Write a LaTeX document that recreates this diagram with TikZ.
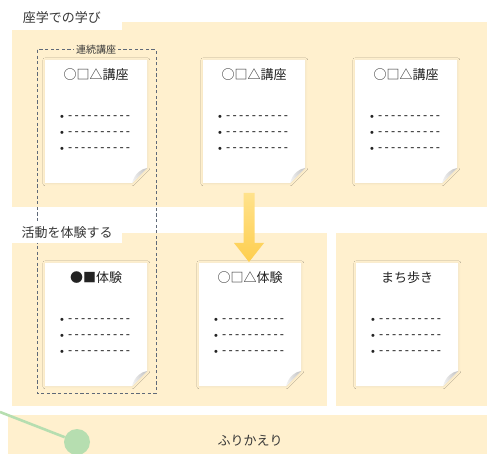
\documentclass[tikz,border=0pt]{standalone}
\usepackage{fontspec}
\setmainfont{Noto Sans CJK JP}
\newfontfamily\dashfont[LetterSpace=18]{Liberation Sans}
\newfontfamily\bulfont{Liberation Sans}
\usetikzlibrary{shadows.blur,calc}
\definecolor{panel}{RGB}{255,240,206}
\definecolor{txt}{RGB}{35,35,35}
\definecolor{lbl}{RGB}{55,55,55}
\definecolor{frame}{RGB}{95,105,120}
\definecolor{arrowtop}{RGB}{255,226,140}
\definecolor{arrowbot}{RGB}{254,206,78}
\definecolor{ball}{RGB}{182,222,176}
\newcommand\dashrow{-{}-{}-{}-{}-{}-{}-{}-{}-{}-}
\tikzset{
  panelbox/.style={fill=panel},
  labelbox/.style={fill=white},
  cardbody/.style={fill=white, blur shadow={shadow xshift=0.3pt, shadow yshift=-0.3pt, shadow blur radius=2.5pt, shadow opacity=7}},
  foldpart/.style={left color=gray!10, right color=gray!50},
  cardtitle/.style={text=txt, font=\fontsize{13}{15}\selectfont, inner sep=0pt},
  sectlabel/.style={text=lbl, font=\fontsize{13}{15}\selectfont, inner sep=0pt},
  bul/.style={text=txt, font=\bulfont\fontsize{11}{13}\selectfont, inner sep=0pt},
  dashtxt/.style={text=txt, font=\dashfont\fontsize{12.5}{14}\selectfont, inner sep=0pt, anchor=west},
  seriesframe/.style={draw=frame, line width=1pt, dash pattern=on 3.2pt off 2.4pt},
  serieslabel/.style={fill=panel, text=lbl, font=\fontsize{10}{12}\selectfont, inner sep=2pt},
  reviewball/.style={circle, fill=ball, minimum size=26pt, inner sep=0pt},
  reviewline/.style={draw=ball, line width=2.6pt},
}
\newcommand\mycard[4]{%
  \begin{scope}[shift={(#2,#3)}]
    \path[cardbody] (0,0) -- (102,0) -- (102,108) -- (87,123) -- (0,123) -- cycle;
    \path[foldpart] (102,108) .. controls (96,109) and (90,113) .. (87,123) -- cycle;
    \node[cardtitle] (#1-t) at (51,15) {#4};
    \foreach \k/\yy in {1/58,2/74,3/90}{%
      \node[bul] (#1-b\k) at (17,\yy) {•};
      \node[dashtxt] (#1-d\k) at (23,\yy) {\dashrow};
    }
  \end{scope}}
\begin{document}
\begin{tikzpicture}[x=1pt,y=-1pt]
  \useasboundingbox (0,0) rectangle (487,454);
  % panels
  \path[panelbox] (12,22) rectangle (487,207);
  \path[panelbox] (12,233) rectangle (327,406);
  \path[panelbox] (336,233) rectangle (487,406);
  \path[panelbox] (8,415) rectangle (487,454);
  % series frame
  \draw[seriesframe] (37,50) rectangle (156,393);
  \node[serieslabel] (series) at (96,50) {連続講座};
  % cards
  \mycard{c1}{45}{60}{○□△講座}
  \mycard{c2}{203}{60}{○□△講座}
  \mycard{c3}{355}{60}{○□△講座}
  \mycard{c4}{45}{263}{●■体験}
  \mycard{c5}{199}{263}{○□△体験}
  \mycard{c6}{356}{263}{まち歩き}
  % section labels
  \path[labelbox] (12,0) rectangle (122,30);
  \node[sectlabel] (lab1) at (62,18) {座学での学び};
  \path[labelbox] (12,223) rectangle (122,243);
  \node[sectlabel] (lab2) at (67,233) {活動を体験する};
  % arrow
  \coordinate (arrS) at (249,193);
  \coordinate (arrE) at (249,262);
  \path[top color=arrowtop, bottom color=arrowbot]
    ($(arrS)+(-5.5,0)$) -- ($(arrS)+(5.5,0)$) -- ($(arrE)+(5.5,-19)$) -- ($(arrE)+(15,-19)$)
    -- (arrE) -- ($(arrE)+(-15,-19)$) -- ($(arrE)+(-5.5,-19)$) -- cycle;
  % review
  \node[sectlabel] (review) at (250,441) {ふりかえり};
  \coordinate (gl) at (0,412);
  \node[reviewball] (gc) at (77,442) {};
  \draw[reviewline] (gl) -- (gc);
\end{tikzpicture}
\end{document}
